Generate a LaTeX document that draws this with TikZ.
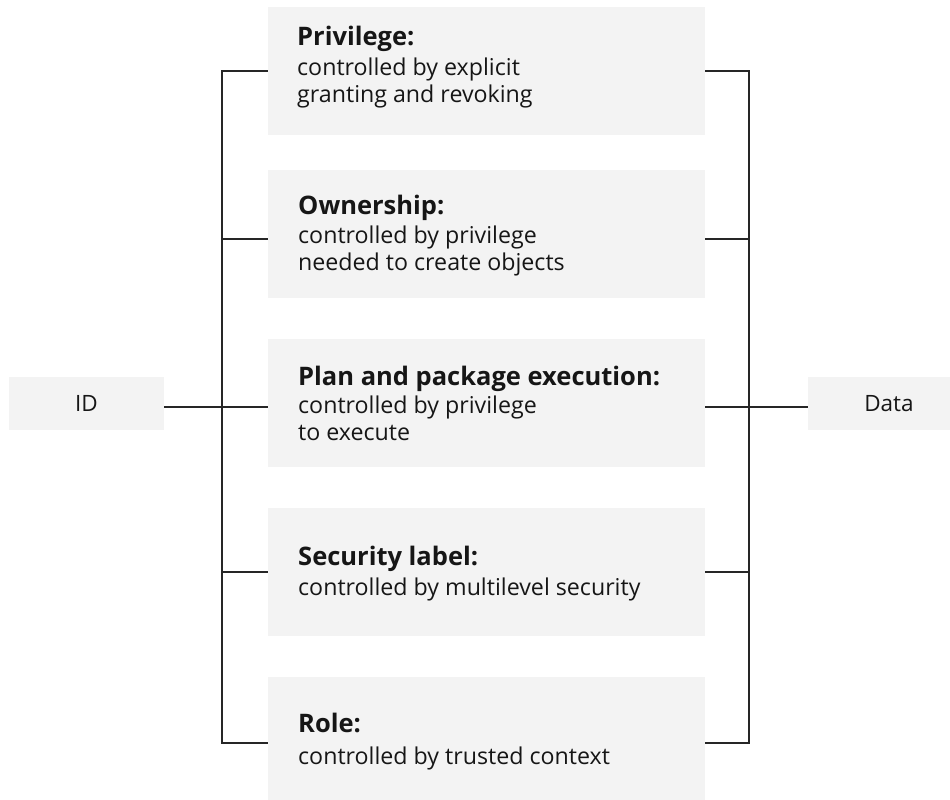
\documentclass[tikz,border=0pt]{standalone}
\usepackage{fontspec}
\setmainfont{Open Sans}
\definecolor{boxgray}{HTML}{F3F3F3}
\definecolor{ink}{HTML}{161616}
\definecolor{linecol}{HTML}{262626}
\tikzset{
  graybox/.style={fill=boxgray, draw=none, inner sep=0pt, minimum width=437pt, minimum height=128pt},
  endbox/.style={fill=boxgray, draw=none, inner sep=0pt, minimum width=155pt, minimum height=53pt, text=ink, font=\fontsize{22.5}{27}\selectfont},
  ttl/.style={anchor=base west, inner sep=0pt, text=ink, font=\fontsize{25.5}{28}\selectfont\bfseries},
  txt/.style={anchor=base west, inner sep=0pt, align=left, text=ink, font=\fontsize{23.2}{27.5}\selectfont},
  conn/.style={draw=linecol, line width=1.6pt},
}
\begin{document}
\begin{tikzpicture}[x=1pt,y=-1pt]
\useasboundingbox (0,0) rectangle (950,800);
\fill[white] (0,0) rectangle (950,800);
% boxes
\node[graybox] (b1) at (486.5,71) {};
\node[graybox] (b2) at (486.5,234) {};
\node[graybox] (b3) at (486.5,403) {};
\node[graybox] (b4) at (486.5,572) {};
\node[graybox] (b5) at (486.5,741) {};
\node[endbox] (id) at (86.5,403.5) {ID};
\node[endbox, minimum width=162pt] (data) at (889,403.5) {Data};
% texts (multi-line nodes are placed at the baseline of their last line)
\node[ttl] (h1) at (297,46) {Privilege:};
\node[txt] (t1) at (297,102.5) {controlled by explicit\\granting and revoking};
\node[ttl] (h2) at (298,214) {Ownership:};
\node[txt] (t2) at (298,270.5) {controlled by privilege\\needed to create objects};
\node[ttl] (h3) at (298,385) {Plan and package execution:};
\node[txt] (t3) at (298,440.5) {controlled by privilege\\to execute};
\node[ttl] (h4) at (298,565) {Security label:};
\node[txt] (t4) at (298,595) {controlled by multilevel security};
\node[ttl] (h5) at (298,732) {Role:};
\node[txt] (t5) at (298,764) {controlled by trusted context};
% junction coordinates
\coordinate (l1) at (222,71);
\coordinate (l2) at (222,239);
\coordinate (l3) at (222,407);
\coordinate (l4) at (222,572);
\coordinate (l5) at (222,743);
\coordinate (r1) at (749,71);
\coordinate (r2) at (749,239);
\coordinate (r3) at (749,407);
\coordinate (r4) at (749,572);
\coordinate (r5) at (749,743);
% left bracket
\draw[conn] (l1 -| b1.west) -- (l1) -- (l5) -- (l5 -| b5.west);
\draw[conn] (l2) -- (l2 -| b2.west);
\draw[conn] (l3) -- (l3 -| b3.west);
\draw[conn] (l4) -- (l4 -| b4.west);
\draw[conn] (id.east |- l3) -- (l3);
% right bracket
\draw[conn] (r1 -| b1.east) -- (r1) -- (r5) -- (r5 -| b5.east);
\draw[conn] (r2) -- (r2 -| b2.east);
\draw[conn] (r3) -- (r3 -| b3.east);
\draw[conn] (r4) -- (r4 -| b4.east);
\draw[conn] (r3) -- (data.west |- r3);
\end{tikzpicture}
\end{document}
